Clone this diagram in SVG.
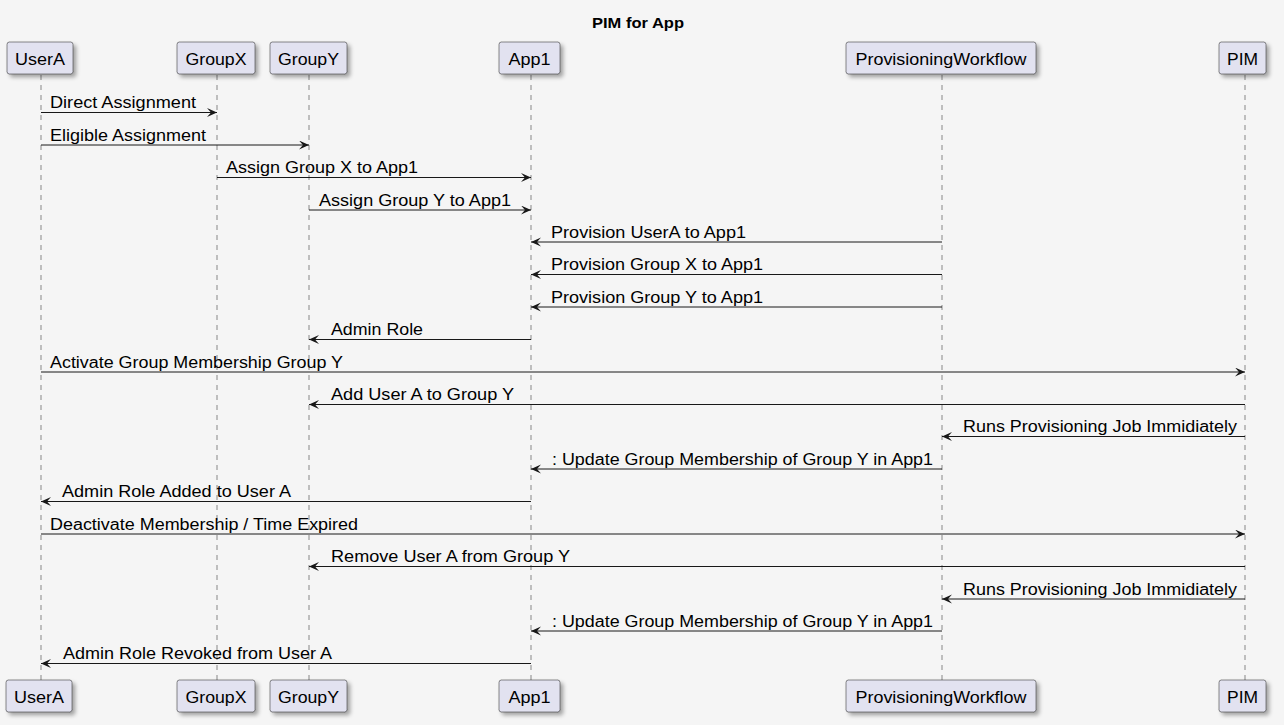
<svg xmlns="http://www.w3.org/2000/svg" width="1284" height="725" viewBox="0 0 1284 725">
<style>
.bg{fill:#F5F5F5}
.title{font-family:"Liberation Sans",Arial,sans-serif;font-size:15px;font-weight:bold;fill:#000}
.box{fill:#E2E2F0;stroke:#181818;stroke-width:0.5;filter:url(#sh)}
.plabel{font-family:"Liberation Sans",Arial,sans-serif;font-size:16px;fill:#000;text-anchor:middle}
.life{stroke:#181818;stroke-width:0.5;stroke-dasharray:5,5;fill:none}
.msg{stroke:#181818;stroke-width:1;fill:none;marker-end:url(#ah)}
.mlabel{font-family:"Liberation Sans",Arial,sans-serif;font-size:16px;fill:#000}
</style>
<defs>
<filter id="sh" x="-20%" y="-30%" width="150%" height="180%">
<feGaussianBlur in="SourceAlpha" stdDeviation="2"/>
<feOffset dx="3" dy="3" result="b"/>
<feComponentTransfer><feFuncA type="linear" slope="0.35"/></feComponentTransfer>
<feMerge><feMergeNode/><feMergeNode in="SourceGraphic"/></feMerge>
</filter>
<marker id="ah" markerWidth="12" markerHeight="10" refX="10" refY="4.5" orient="auto" markerUnits="userSpaceOnUse">
<path d="M0,0 L10,4.5 L0,9 L4,4.5 Z" fill="#181818"/>
</marker>
</defs>
<rect class="bg" x="0" y="0" width="1284" height="725"/>
<text class="title" x="592" y="28" textLength="92" lengthAdjust="spacingAndGlyphs">PIM for App</text>

<g id="lifelines">
<line class="life" x1="41" y1="75" x2="41" y2="680"/>
<line class="life" x1="217" y1="75" x2="217" y2="680"/>
<line class="life" x1="309" y1="75" x2="309" y2="680"/>
<line class="life" x1="531" y1="75" x2="531" y2="680"/>
<line class="life" x1="942" y1="75" x2="942" y2="680"/>
<line class="life" x1="1245" y1="75" x2="1245" y2="680"/>
</g>

<g id="UserA">
<rect class="box" x="7" y="42" width="66" height="32" rx="2.5"/>
<text class="plabel" x="40" y="65" textLength="50" lengthAdjust="spacingAndGlyphs">UserA</text>
<rect class="box" x="6" y="680" width="66" height="32" rx="2.5"/>
<text class="plabel" x="39" y="703" textLength="50" lengthAdjust="spacingAndGlyphs">UserA</text>
</g>
<g id="GroupX">
<rect class="box" x="177" y="42" width="78" height="32" rx="2.5"/>
<text class="plabel" x="216" y="65" textLength="61" lengthAdjust="spacingAndGlyphs">GroupX</text>
<rect class="box" x="177" y="680" width="78" height="32" rx="2.5"/>
<text class="plabel" x="216" y="703" textLength="61" lengthAdjust="spacingAndGlyphs">GroupX</text>
</g>
<g id="GroupY">
<rect class="box" x="270" y="42" width="77" height="32" rx="2.5"/>
<text class="plabel" x="308.5" y="65" textLength="61" lengthAdjust="spacingAndGlyphs">GroupY</text>
<rect class="box" x="270" y="680" width="77" height="32" rx="2.5"/>
<text class="plabel" x="308.5" y="703" textLength="61" lengthAdjust="spacingAndGlyphs">GroupY</text>
</g>
<g id="App1">
<rect class="box" x="499" y="42" width="61" height="32" rx="2.5"/>
<text class="plabel" x="529.5" y="65" textLength="42" lengthAdjust="spacingAndGlyphs">App1</text>
<rect class="box" x="499" y="680" width="61" height="32" rx="2.5"/>
<text class="plabel" x="529.5" y="703" textLength="42" lengthAdjust="spacingAndGlyphs">App1</text>
</g>
<g id="ProvisioningWorkflow">
<rect class="box" x="846" y="42" width="190" height="32" rx="2.5"/>
<text class="plabel" x="941" y="65" textLength="171" lengthAdjust="spacingAndGlyphs">ProvisioningWorkflow</text>
<rect class="box" x="846" y="680" width="190" height="32" rx="2.5"/>
<text class="plabel" x="941" y="703" textLength="171" lengthAdjust="spacingAndGlyphs">ProvisioningWorkflow</text>
</g>
<g id="PIM">
<rect class="box" x="1219" y="42" width="47" height="32" rx="2.5"/>
<text class="plabel" x="1242.5" y="65" textLength="31" lengthAdjust="spacingAndGlyphs">PIM</text>
<rect class="box" x="1219" y="680" width="47" height="32" rx="2.5"/>
<text class="plabel" x="1242.5" y="703" textLength="31" lengthAdjust="spacingAndGlyphs">PIM</text>
</g>

<g id="connectors">
<line class="msg" x1="41" y1="112.5" x2="217" y2="112.5"/>
<text class="mlabel" x="50" y="108" textLength="146" lengthAdjust="spacingAndGlyphs">Direct Assignment</text>
<line class="msg" x1="41" y1="145" x2="309" y2="145"/>
<text class="mlabel" x="50" y="140.5" textLength="156" lengthAdjust="spacingAndGlyphs">Eligible Assignment</text>
<line class="msg" x1="217" y1="177.5" x2="531" y2="177.5"/>
<text class="mlabel" x="226" y="173" textLength="192" lengthAdjust="spacingAndGlyphs">Assign Group X to App1</text>
<line class="msg" x1="309" y1="210" x2="531" y2="210"/>
<text class="mlabel" x="319" y="205.5" textLength="192" lengthAdjust="spacingAndGlyphs">Assign Group Y to App1</text>
<line class="msg" x1="942" y1="242" x2="531" y2="242"/>
<text class="mlabel" x="551" y="237.5" textLength="195" lengthAdjust="spacingAndGlyphs">Provision UserA to App1</text>
<line class="msg" x1="942" y1="274.5" x2="531" y2="274.5"/>
<text class="mlabel" x="551" y="270" textLength="212" lengthAdjust="spacingAndGlyphs">Provision Group X to App1</text>
<line class="msg" x1="942" y1="307" x2="531" y2="307"/>
<text class="mlabel" x="551" y="302.5" textLength="212" lengthAdjust="spacingAndGlyphs">Provision Group Y to App1</text>
<line class="msg" x1="531" y1="339.5" x2="309" y2="339.5"/>
<text class="mlabel" x="331" y="335" textLength="92" lengthAdjust="spacingAndGlyphs">Admin Role</text>
<line class="msg" x1="41" y1="372" x2="1245" y2="372"/>
<text class="mlabel" x="50" y="367.5" textLength="293" lengthAdjust="spacingAndGlyphs">Activate Group Membership Group Y</text>
<line class="msg" x1="1245" y1="404.5" x2="309" y2="404.5"/>
<text class="mlabel" x="331" y="400" textLength="183" lengthAdjust="spacingAndGlyphs">Add User A to Group Y</text>
<line class="msg" x1="1245" y1="436.5" x2="942" y2="436.5"/>
<text class="mlabel" x="963" y="432" textLength="274" lengthAdjust="spacingAndGlyphs">Runs Provisioning Job Immidiately</text>
<line class="msg" x1="942" y1="469" x2="531" y2="469"/>
<text class="mlabel" x="552" y="464.5" textLength="381" lengthAdjust="spacingAndGlyphs">: Update Group Membership of Group Y in App1</text>
<line class="msg" x1="531" y1="501.5" x2="41" y2="501.5"/>
<text class="mlabel" x="62" y="497" textLength="229" lengthAdjust="spacingAndGlyphs">Admin Role Added to User A</text>
<line class="msg" x1="41" y1="534" x2="1245" y2="534"/>
<text class="mlabel" x="50" y="529.5" textLength="308" lengthAdjust="spacingAndGlyphs">Deactivate Membership / Time Expired</text>
<line class="msg" x1="1245" y1="566.5" x2="309" y2="566.5"/>
<text class="mlabel" x="331" y="562" textLength="239" lengthAdjust="spacingAndGlyphs">Remove User A from Group Y</text>
<line class="msg" x1="1245" y1="599" x2="942" y2="599"/>
<text class="mlabel" x="963" y="594.5" textLength="274" lengthAdjust="spacingAndGlyphs">Runs Provisioning Job Immidiately</text>
<line class="msg" x1="942" y1="631" x2="531" y2="631"/>
<text class="mlabel" x="552" y="626.5" textLength="381" lengthAdjust="spacingAndGlyphs">: Update Group Membership of Group Y in App1</text>
<line class="msg" x1="531" y1="663.5" x2="41" y2="663.5"/>
<text class="mlabel" x="63" y="659" textLength="269" lengthAdjust="spacingAndGlyphs">Admin Role Revoked from User A</text>
</g>
</svg>
